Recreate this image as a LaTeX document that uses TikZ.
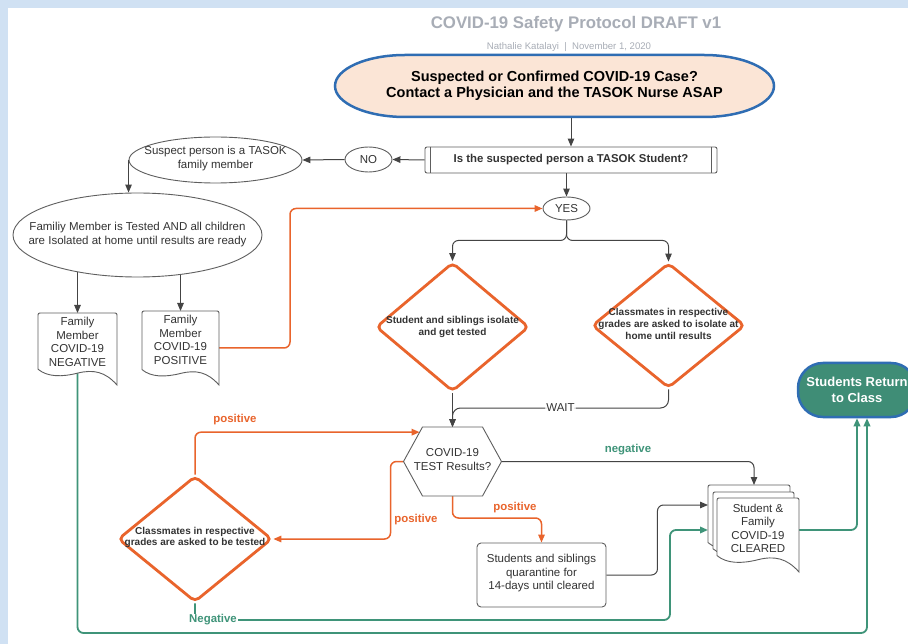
\documentclass[tikz,border=0pt]{standalone}
\usepackage{fontspec}
\setmainfont{Liberation Sans}
\usetikzlibrary{shapes.geometric,arrows.meta,calc}
\pgfdeclarelayer{back}
\pgfdeclarelayer{bg}
\pgfsetlayers{back,bg,main}

\definecolor{orng}{HTML}{E9642C}
\definecolor{grn}{HTML}{3F9479}
\definecolor{lgray}{HTML}{5E5E5E}
\definecolor{cgray}{HTML}{444444}
\definecolor{txt}{HTML}{333333}
\definecolor{band}{HTML}{D0E1F3}
\definecolor{peach}{HTML}{FBE5D6}
\definecolor{bblue}{HTML}{2F6DB3}
\definecolor{teal}{HTML}{3F8D76}
\definecolor{ttl}{HTML}{A8ADB6}

\newcommand{\docshape}[5][]{%
 \path[#1] (#2,{#5-0.2*(#4-#2)}) -- (#2,{#3+4}) .. controls (#2,#3) .. ({#2+4},#3) -- ({#4-4},#3) .. controls (#4,#3) .. (#4,{#3+4}) -- (#4,#5) .. controls ({#4-0.15*(#4-#2)},{#5-0.17*(#4-#2)}) and ({#4-0.3*(#4-#2)},{#5-0.2*(#4-#2)}) .. ({0.5*(#2+#4)},{#5-0.15*(#4-#2)}) .. controls ({#2+0.3*(#4-#2)},{#5-0.1*(#4-#2)}) and ({#2+0.12*(#4-#2)},{#5-0.1*(#4-#2)}) .. (#2,{#5-0.2*(#4-#2)}) -- cycle;%
}

\tikzset{
 arr/.style={-{Triangle[length=8pt,width=6.5pt]}},
 conn/.style={draw=cgray, line width=1pt, rounded corners=6pt},
 oconn/.style={draw=orng, line width=1.5pt, rounded corners=6pt},
 gconn/.style={draw=grn, line width=1.8pt, rounded corners=6pt},
 ntext/.style={text=txt, font=\fontsize{11.5}{13.5}\selectfont, align=center, inner sep=0},
 btext/.style={text=txt, font=\bfseries\fontsize{10}{12}\selectfont, align=center, inner sep=0},
 olbl/.style={text=orng, font=\bfseries\fontsize{11.4}{13}\selectfont, inner sep=1pt},
 glbl/.style={text=grn, font=\bfseries\fontsize{11.4}{13}\selectfont, inner sep=1pt},
 ell/.style={ellipse, draw=lgray, line width=0.9pt, fill=white, inner sep=0, text=txt, font=\fontsize{11.5}{13.5}\selectfont, align=center},
 diam/.style={diamond, draw=orng, line width=2.8pt, rounded corners=5pt, fill=white, inner sep=0},
 boxarea/.style={rectangle, draw=none, inner sep=0, outer sep=0},
 docline/.style={draw=lgray, fill=white, line width=0.9pt},
}

\begin{document}
\begin{tikzpicture}[x=1pt,y=-1pt]
\useasboundingbox (0,0) rectangle (908,644);
\begin{pgfonlayer}{back}
\fill[white] (0,0) rectangle (908,644);
\fill[band] (0,0) rectangle (908,8);
\fill[band] (0,0) rectangle (8,644);
\end{pgfonlayer}

% title
\node[font=\bfseries\fontsize{16.8}{20}\selectfont, text=ttl, inner sep=0] (title) at (576,24) {COVID-19 Safety Protocol DRAFT v1};
\node[font=\fontsize{9.6}{11}\selectfont, text=ttl, inner sep=0] (sub) at (569,47) {Nathalie Katalayi\ \ |\ \ November 1, 2020};

% start terminator
\path[draw=bblue, fill=peach, line width=2.5pt] (405,55) -- (704,55) arc[start angle=-90, end angle=90, x radius=70, y radius=31] -- (405,117) arc[start angle=90, end angle=270, x radius=70, y radius=31] -- cycle;
\node[font=\bfseries\fontsize{14.5}{16.5}\selectfont, text=black, align=center, minimum width=439, minimum height=62, inner sep=0] (start) at (554.5,86) {Suspected or Confirmed COVID-19 Case?\\Contact a Physician and the TASOK Nurse ASAP};

% question box
\node[draw=lgray, line width=0.9pt, rounded corners=2pt, fill=white, minimum width=292, minimum height=26, inner sep=0, font=\bfseries\fontsize{11.4}{13}\selectfont, text=txt] (q) at (571,160) {Is the suspected person a TASOK Student?};
\draw[lgray, line width=0.9pt] ([xshift=6pt]q.north west) -- ([xshift=6pt]q.south west);
\draw[lgray, line width=0.9pt] ([xshift=-6pt]q.north east) -- ([xshift=-6pt]q.south east);

% left branch
\node[ell, minimum width=47, minimum height=25] (no) at (368.5,159.5) {NO};
\node[ell, minimum width=173, minimum height=46] (susp) at (215.5,160) {};
\node[ntext] (suspt) at (215.5,158.5) {Suspect person is a TASOK\\family member};
\node[ell, minimum width=249, minimum height=84] (fam) at (137.5,235) {};
\node[ntext] (famt) at (137.5,234.5) {Familiy Member is Tested AND all children\\are Isolated at home until results are ready};

\docshape[docline]{38}{313}{117}{385}
\node[boxarea, minimum width=79, minimum height=72] (negbox) at (77.5,349) {};
\node[ntext] (negtxt) at (77.5,342) {Family\\Member\\COVID-19\\NEGATIVE};

\docshape[docline]{142}{311}{219}{385}
\node[boxarea, minimum width=77, minimum height=74] (posbox) at (180.5,348) {};
\node[ntext] (postxt) at (180.5,340) {Family\\Member\\COVID-19\\POSITIVE};

% YES and diamonds
\node[ell, minimum width=47, minimum height=23] (yes) at (566.5,208.5) {YES};
\node[diam, minimum width=153, minimum height=129] (d1) at (452.5,327) {};
\node[btext] (d1t) at (452.5,326.5) {Student and siblings isolate\\and get tested};
\node[diam, minimum width=153, minimum height=125] (d2) at (668.5,325.5) {};
\node[btext, font=\bfseries\fontsize{10}{11.8}\selectfont] (d2t) at (668.5,324) {Classmates in respective\\grades are asked to isolate at\\home until results};

% hexagon
\node[boxarea, minimum width=98, minimum height=69] (hex) at (452.5,461.5) {};
\path[draw=lgray, fill=white, line width=0.9pt] (hex.west) -- ([xshift=19pt]hex.north west) -- ([xshift=-19pt]hex.north east) -- (hex.east) -- ([xshift=-19pt]hex.south east) -- ([xshift=19pt]hex.south west) -- cycle;
\node[ntext, font=\fontsize{11.5}{14}\selectfont] (hext) at (452.5,460) {COVID-19\\TEST Results?};
\coordinate (hexin) at ($(hex.west)!0.85!([xshift=19pt]hex.north west)$);

% bottom-left diamond
\node[diam, minimum width=154, minimum height=126] (d3) at (195,539) {};
\node[btext, font=\bfseries\fontsize{10}{11.5}\selectfont] (d3t) at (195,537.5) {Classmates in respective\\grades are asked to be tested};

% quarantine box
\node[draw=lgray, line width=0.9pt, rounded corners=4pt, fill=white, minimum width=129, minimum height=64, inner sep=0] (qb) at (541.5,575) {};
\node[ntext] (qbt) at (541.5,573.5) {Students and siblings\\quarantine for\\14-days until cleared};

% cleared stack
\docshape[docline]{708}{485}{790}{559}
\docshape[docline]{713}{492}{794}{565}
\docshape[docline]{717}{498}{799}{572}
\node[boxarea, minimum width=82, minimum height=74] (clrb) at (749,522) {};
\node[boxarea, minimum width=82, minimum height=74] (clr) at (758,535) {};
\node[ntext] (clrt) at (758,528.5) {Student \&\\Family\\COVID-19\\CLEARED};

% return node
\node[rectangle, rounded corners=25pt, draw=bblue, fill=teal, line width=2.5pt, minimum width=118, minimum height=54, inner sep=0, text=white, font=\bfseries\fontsize{13}{16}\selectfont, align=center] (ret) at (857,390) {Students Return\\to Class};

% labels
\node[olbl] (lp1) at (235,420) {positive};
\node[olbl] (lp2) at (416,520) {positive};
\node[olbl] (lp3) at (515,508) {positive};
\node[glbl] (ln1) at (628,450) {negative};
\node[glbl, fill=white] (ln2) at (213,620) {Negative};

% connectors
\begin{pgfonlayer}{bg}
\draw[conn,arr] (start.south -| q.north) -- (q.north);
\draw[conn,arr] (q.west) -- (no.east);
\draw[conn,arr] (no.west) -- (susp.east);
\draw[conn,arr] (susp.west) -- (susp.west |- fam.north);
\draw[conn,arr] (fam.center -| negbox.north) -- (negbox.north);
\draw[conn,arr] (fam.center -| posbox.north) -- (posbox.north);
\draw[oconn,arr] (posbox.east) -- ++(71,0) |- (yes.west);
\draw[conn,arr] (yes.north |- q.south) -- (yes.north);
\draw[conn,arr] (yes.south) -- ++(0,20) -| (d1.north);
\draw[conn,arr] (yes.south) -- ++(0,20) -| (d2.north);
\draw[conn,arr] (d1.south) -- (hex.north);
\draw[conn,arr,rounded corners=8pt] (d2.south) |- node[pos=0.75, fill=white, text=txt, font=\fontsize{11.5}{13}\selectfont, inner sep=1pt] (wait) {WAIT} ([yshift=19pt]hex.north) -- (hex.north);
\draw[conn,arr] (hex.east) -| ([xshift=5pt]clrb.north);
\draw[oconn,arr] (hex.south) -- ++(0,22) -| (qb.north);
\draw[oconn,arr] (hex.west) -- ++(-13,0) |- (d3.east);
\draw[oconn,arr] (d3.north) |- (hexin);
\draw[gconn,arr] (d3.south) |- (670,620) |- (clrb.west |- 0,530);
\draw[conn,arr] (qb.east) -- ++(51,0) |- (clrb.west |- 0,505);
\draw[gconn,arr] (negbox.center) |- (867,633) -- ([xshift=10pt]ret.south);
\draw[gconn,arr] ([yshift=5pt]clr.east) -| (ret.south);
\end{pgfonlayer}
\end{tikzpicture}
\end{document}
